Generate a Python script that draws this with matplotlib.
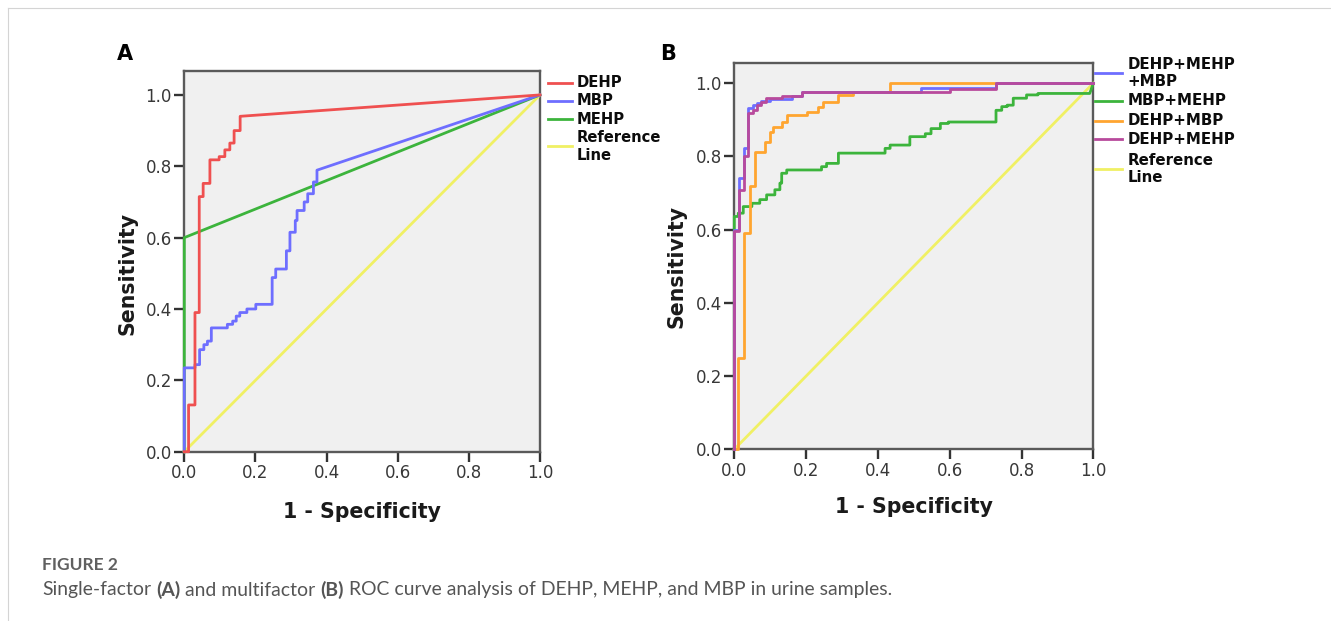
import matplotlib
matplotlib.use("Agg")
import matplotlib.pyplot as plt
from matplotlib.lines import Line2D

# ROC curves: points where each curve rises
# (1 - specificity, sensitivity); every curve starts at (0,0), ends at (1,1)

# panel A, single factor
dehp_fpr = [0.012, 0.030, 0.042, 0.053, 0.072, 0.098, 0.114, 0.128, 0.140, 0.157]
dehp_tpr = [0.131, 0.390, 0.715, 0.752, 0.818, 0.827, 0.846, 0.865, 0.900, 0.940]

mbp_fpr = [0.0, 0.030, 0.043, 0.055, 0.065, 0.076, 0.121, 0.136, 0.146, 0.156, 0.176,
           0.201, 0.247, 0.257, 0.287, 0.297, 0.312, 0.317, 0.337, 0.347, 0.363, 0.373]
mbp_tpr = [0.235, 0.244, 0.286, 0.300, 0.310, 0.347, 0.357, 0.366, 0.380, 0.390, 0.400,
           0.413, 0.488, 0.512, 0.563, 0.615, 0.648, 0.676, 0.700, 0.723, 0.756, 0.789]

mehp_fpr = [0.0]
mehp_tpr = [0.600]

# panel B, multifactor
all3_fpr = [0.0, 0.014, 0.027, 0.039, 0.053, 0.062, 0.074, 0.100, 0.160, 0.188, 0.520, 0.730]
all3_tpr = [0.600, 0.740, 0.822, 0.932, 0.940, 0.946, 0.952, 0.958, 0.965, 0.977, 0.988, 1.0]

mbp_mehp_fpr = [0.0, 0.011, 0.025, 0.049, 0.071, 0.090, 0.113, 0.127, 0.132, 0.146, 0.243,
                0.257, 0.290, 0.420, 0.434, 0.489, 0.532, 0.548, 0.574, 0.596, 0.729,
                0.745, 0.760, 0.777, 0.814, 0.846, 0.990]
mbp_mehp_tpr = [0.636, 0.645, 0.663, 0.672, 0.682, 0.695, 0.709, 0.727, 0.754, 0.763, 0.772,
                0.781, 0.809, 0.822, 0.831, 0.854, 0.862, 0.876, 0.890, 0.894, 0.926,
                0.936, 0.940, 0.959, 0.968, 0.972, 0.972]

dehp_mbp_fpr = [0.011, 0.027, 0.044, 0.058, 0.085, 0.099, 0.109, 0.132, 0.146, 0.202,
                0.234, 0.248, 0.290, 0.332, 0.434]
dehp_mbp_tpr = [0.250, 0.590, 0.718, 0.813, 0.840, 0.868, 0.881, 0.895, 0.913, 0.922,
                0.936, 0.950, 0.968, 0.977, 1.0]

dehp_mehp_fpr = [0.0, 0.014, 0.027, 0.039, 0.053, 0.062, 0.074, 0.088, 0.132, 0.188, 0.600, 0.730]
dehp_mehp_tpr = [0.595, 0.708, 0.800, 0.918, 0.927, 0.940, 0.950, 0.959, 0.965, 0.977, 0.985, 1.0]

ticks = [0.0, 0.2, 0.4, 0.6, 0.8, 1.0]
tick_labels = ["0.0", "0.2", "0.4", "0.6", "0.8", "1.0"]

names_a = ["DEHP", "MBP", "MEHP", "Reference\nLine"]
names_b = ["DEHP+MEHP\n+MBP", "MBP+MEHP", "DEHP+MBP", "DEHP+MEHP", "Reference\nLine"]

caption_title = "FIGURE 2"
caption_parts = [("Single-factor", "normal"), ("(A)", "bold"), ("and multifactor", "normal"),
                 ("(B)", "bold"), ("ROC curve analysis of DEHP, MEHP, and MBP in urine samples.", "normal")]

W, H = 1331, 621
RED, BLUE, GREEN = "#ef5050", "#6e6eff", "#3cb43c"
ORANGE, PURPLE, YELLOW = "#ffa530", "#b84a9c", "#f0f064"
LW = 2.0


def roc_path(fpr, tpr):
    xs, ys = [0.0], [0.0]
    for x, y in zip(fpr, tpr):
        xs += [x, x]
        ys += [ys[-1], y]
    xs.append(1.0)
    ys.append(1.0)
    return xs, ys


def fx(px):
    return px / W


def fy(py):
    return 1 - py / H


def style_axes(ax, ytop, xlab_y, ylab_x):
    ax.set_facecolor("#f0f0f0")
    ax.set_xlim(0, 1)
    ax.set_ylim(0, ytop)
    ax.set_xticks(ticks)
    ax.set_xticklabels(tick_labels)
    ax.set_yticks(ticks)
    ax.set_yticklabels(tick_labels)
    for s in ax.spines.values():
        s.set_color("#5a5a5a")
        s.set_linewidth(1.7)
    ax.tick_params(direction="out", length=7, width=1.7, color="#333333",
                   labelsize=12, labelcolor="#383838", pad=2)
    ax.set_xlabel("1 - Specificity", fontsize=14.8, fontweight="bold", color="#1a1a1a")
    ax.set_ylabel("Sensitivity", fontsize=14.8, fontweight="bold", color="#1a1a1a")
    ax.xaxis.label.set_va("center")
    ax.yaxis.label.set_va("center")
    ax.xaxis.set_label_coords(0.5, xlab_y)
    ax.yaxis.set_label_coords(ylab_x, 0.5 / ytop)


def draw_legend(names, colors, ys, x0, x1, xt, size, spacing):
    for name, c, y in zip(names, colors, ys):
        fig.add_artist(Line2D([fx(x0), fx(x1)], [fy(y), fy(y)], color=c, lw=LW))
        fig.text(fx(xt), fy(y), name, fontsize=size, fontweight="bold", color="#0c0c0c",
                 va="center", ha="left", linespacing=spacing)


fig = plt.figure(figsize=(W / 100, H / 100), dpi=100)

# frame lines of the page
fig.add_artist(Line2D([fx(8), 1], [fy(8), fy(8)], color="#d4d4d4", lw=0.8))
fig.add_artist(Line2D([fx(8), fx(8)], [fy(8), 0], color="#d4d4d4", lw=0.8))

# ---- panel A
axA = fig.add_axes([fx(184.3), fy(451.7), (540 - 184.3) / W, (451.7 - 71) / H])
style_axes(axA, 1.067, -0.158, -0.161)
axA.plot([0, 1], [0, 1], color=YELLOW, lw=LW, zorder=3, clip_on=False)
for f, t, c in [(mehp_fpr, mehp_tpr, GREEN), (mbp_fpr, mbp_tpr, BLUE), (dehp_fpr, dehp_tpr, RED)]:
    xs, ys = roc_path(f, t)
    axA.plot(xs, ys, color=c, lw=LW, zorder=3, clip_on=False)
draw_legend(names_a, [RED, BLUE, GREEN, YELLOW], [82.7, 100.7, 119.3, 146.2],
            547.7, 571.7, 577, 10.6, 1.22)
fig.text(fx(125.4), fy(54), "A", fontsize=15, fontweight="bold", ha="center", va="center")

# ---- panel B
axB = fig.add_axes([fx(734.3), fy(449.3), (1093.3 - 734.3) / W, (449.3 - 62.7) / H])
style_axes(axB, 1.056, -0.149, -0.16)
axB.plot([0, 1], [0, 1], color=YELLOW, lw=LW, zorder=3, clip_on=False)
for f, t, c in [(mbp_mehp_fpr, mbp_mehp_tpr, GREEN), (dehp_mbp_fpr, dehp_mbp_tpr, ORANGE),
                (all3_fpr, all3_tpr, BLUE), (dehp_mehp_fpr, dehp_mehp_tpr, PURPLE)]:
    xs, ys = roc_path(f, t)
    axB.plot(xs, ys, color=c, lw=LW, zorder=3, clip_on=False)
draw_legend(names_b, [BLUE, GREEN, ORANGE, PURPLE, YELLOW], [73.3, 100.7, 120.7, 139.3, 169.2],
            1095, 1121.7, 1127.3, 10.8, 1.15)
fig.text(fx(668), fy(53.5), "B", fontsize=15, fontweight="bold", ha="center", va="center")

# ---- caption
renderer = fig.canvas.get_renderer()
cap_font = "Lato"
fig.text(fx(42), fy(565), caption_title, fontsize=12.5, family=cap_font, fontweight="bold",
         color="#606060", va="center")


def put_caption(size):
    sp = fig.text(0, 0, "x x", fontsize=size, family=cap_font)
    nsp = fig.text(0, 0, "xx", fontsize=size, family=cap_font)
    space = sp.get_window_extent(renderer).width - nsp.get_window_extent(renderer).width
    sp.remove()
    nsp.remove()
    x = 42
    arts = []
    for s, w in caption_parts:
        t = fig.text(fx(x), fy(590), s, fontsize=size, family=cap_font, fontweight=w,
                     color="#555555", va="center")
        x += t.get_window_extent(renderer).width + space
        arts.append(t)
    return x - space, arts


end, arts = put_caption(10)
for a in arts:
    a.remove()
put_caption(10 * (890 - 42) / (end - 42))

fig.savefig("out.png", dpi=100, facecolor="white")
